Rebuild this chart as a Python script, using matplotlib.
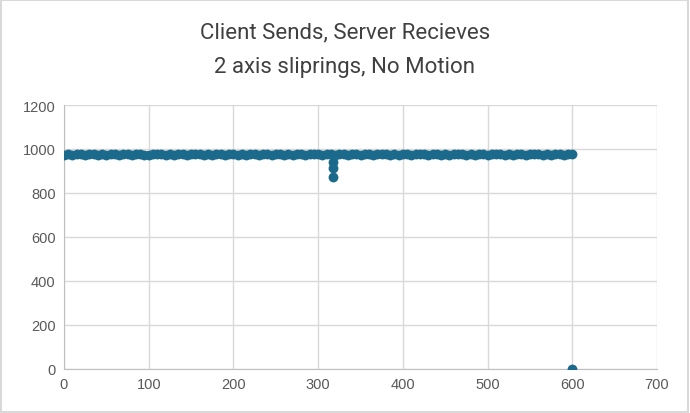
import numpy as np
import matplotlib.pyplot as plt
from matplotlib.patches import Rectangle

# sampled readings, every 5 samples (x = 0, 5, ..., 600)
x_main = list(range(0, 601, 5))
y_main = [975, 977, 974, 978, 976, 975, 979, 976, 973, 977,
          975, 979, 976, 974, 977, 978, 973, 976, 979, 975,
          974, 977, 976, 978, 974, 977, 975, 978, 976, 974,
          977, 976, 979, 974, 977, 973, 976, 978, 975, 979,
          976, 974, 977, 975, 978, 976, 974, 977, 978, 975,
          976, 979, 975, 977, 973, 976, 978, 975, 977, 976,
          978, 974, 976, 979, 975, 977, 976, 974, 977, 978,
          975, 976, 978, 975, 977, 976, 979, 974, 977, 975,
          978, 976, 974, 977, 976, 978, 975, 977, 979, 975,
          976, 974, 977, 976, 978, 975, 977, 972, 978, 976,
          975, 977, 976, 979, 974, 977, 975, 978, 976, 971,
          977, 976, 978, 975, 977, 974, 978, 976, 975, 977,
          976]
# outliers
x_out = [318, 318, 318, 600]
y_out = [942, 912, 872, 0]

x = x_main + x_out
y = y_main + y_out

fig = plt.figure(figsize=(6.9, 4.14), dpi=100, facecolor='white')
ax = fig.add_axes([64 / 690, 1 - 370 / 414, (657 - 64) / 690, (370 - 106) / 414])

ax.scatter(x, y, s=50, color='#1b6a8c', zorder=3, linewidths=0)

ax.set_xlim(0, 700)
ax.set_ylim(0, 1200)
ax.set_xticks(range(0, 701, 100))
ax.set_yticks(range(0, 1201, 200))
ax.grid(True, color='#d9d9d9', lw=1)
ax.set_axisbelow(True)
for s in ax.spines.values():
    s.set_visible(False)
ax.spines['bottom'].set_visible(True)
ax.spines['bottom'].set_color('#bfbfbf')
ax.spines['left'].set_visible(True)
ax.spines['left'].set_color('#bfbfbf')
ax.tick_params(length=0, labelsize=10.5, colors='#595959', pad=6)
for lab in ax.get_xticklabels() + ax.get_yticklabels():
    lab.set_fontfamily('Liberation Sans')

fig.text(0.5, 1 - 33 / 414, 'Client Sends, Server Recieves', ha='center', va='center',
         fontsize=16, color='#404040', family='Roboto')
fig.text(0.5, 1 - 67 / 414, '2 axis sliprings, No Motion', ha='center', va='center',
         fontsize=16, color='#404040', family='Roboto')

fig.patches.append(Rectangle((0.002, 0.003), 0.995, 0.994, transform=fig.transFigure,
                             fill=False, edgecolor='#d9d9d9', lw=1.5))

fig.savefig('out.png', dpi=100)
